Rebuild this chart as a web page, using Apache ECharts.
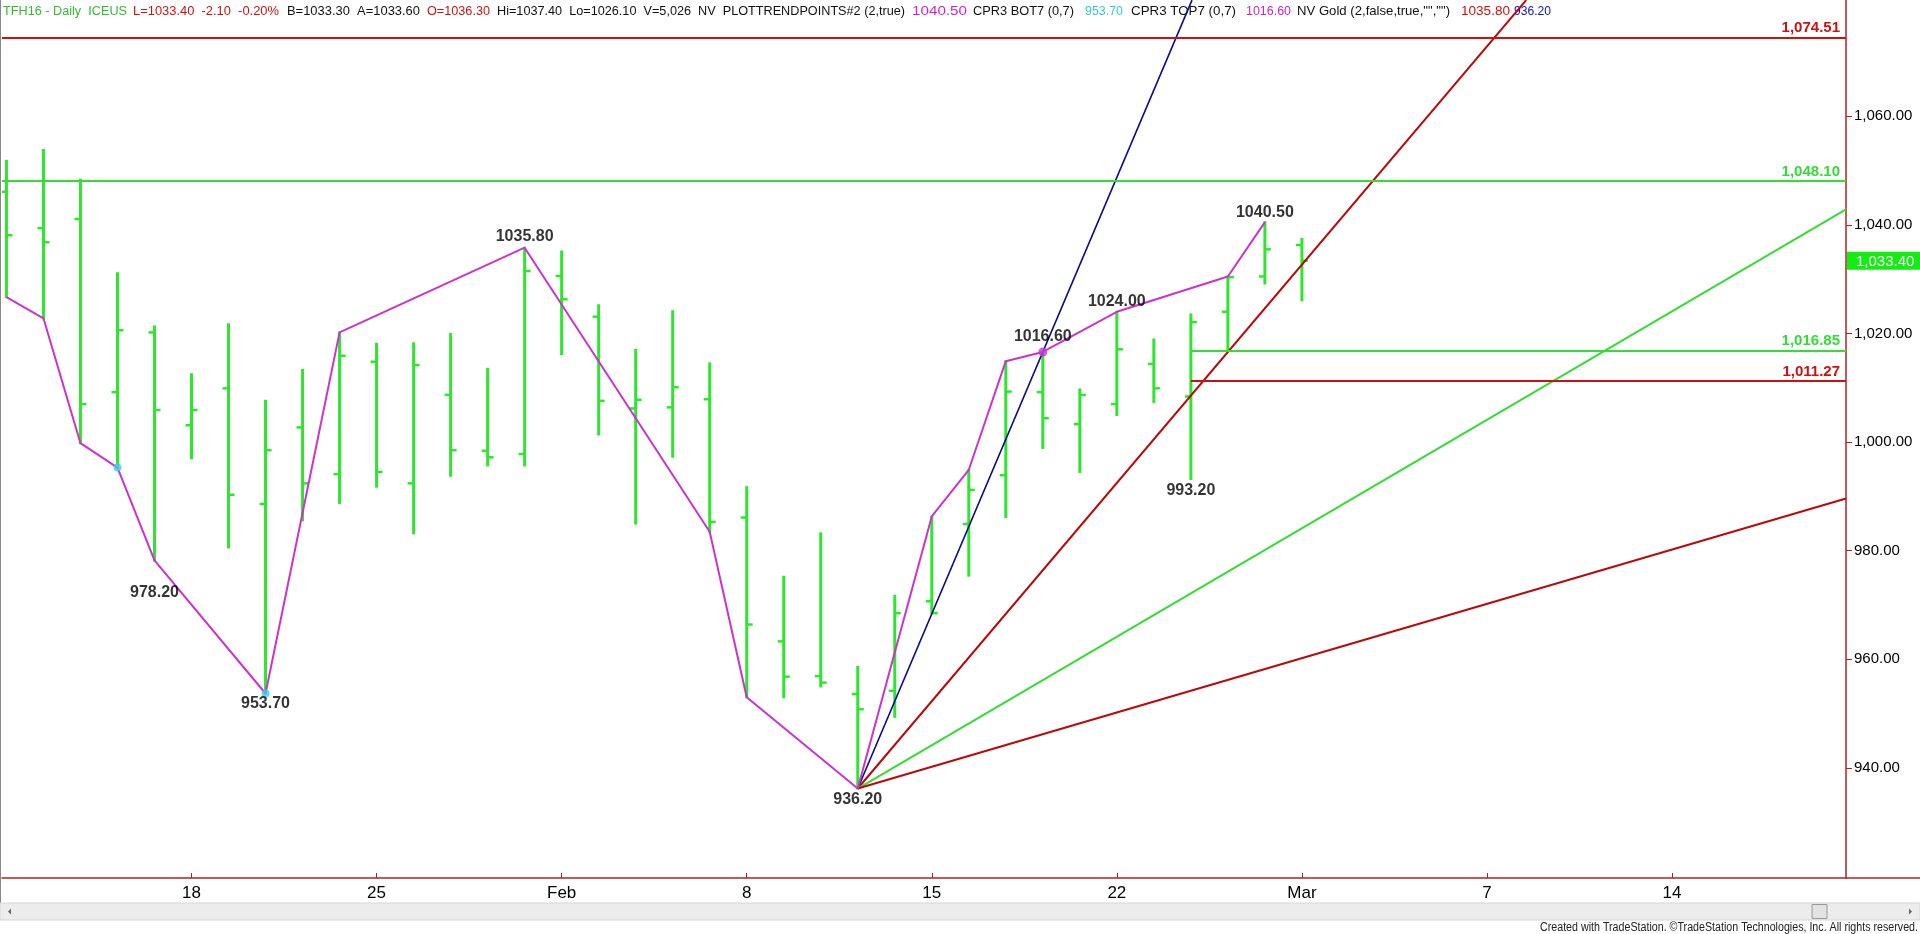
<!DOCTYPE html>
<html><head><meta charset="utf-8">
<script src="https://cdn.jsdelivr.net/npm/echarts@6/dist/echarts.min.js"></script>
<style>html,body{margin:0;padding:0;background:#fff;overflow:hidden}#c{width:1920px;height:934px}</style>
</head><body><div id="c"></div>
<script>
// ---- DATA (bar index 0 = 2016-01-11) ----
const dates = ['2016-01-11','2016-01-12','2016-01-13','2016-01-14','2016-01-15',
  '2016-01-18','2016-01-19','2016-01-20','2016-01-21','2016-01-22',
  '2016-01-25','2016-01-26','2016-01-27','2016-01-28','2016-01-29',
  '2016-02-01','2016-02-02','2016-02-03','2016-02-04','2016-02-05',
  '2016-02-08','2016-02-09','2016-02-10','2016-02-11','2016-02-12',
  '2016-02-15','2016-02-16','2016-02-17','2016-02-18','2016-02-19',
  '2016-02-22','2016-02-23','2016-02-24','2016-02-25','2016-02-26','2016-02-29'];
const opens  = [1046.1,1039.4,1041.1,1009.2,1020.2,1003.1,1009.9,988.6,1002.7,994.1,
  1014.8,992.4,1008.7,998.4,997.8,1030.6,1023.1,1006.2,1006.4,1007.9,
  986.1,963.3,956.9,953.6,954.2,970.7,984.9,993.9,1009.2,1003.3,
  1007.0,1014.4,1008.4,1024.0,1030.5,1036.3];
const highs  = [1051.8,1053.8,1048.3,1031.1,1021.3,1012.5,1021.7,1007.6,1013.3,1020.2,
  1018.1,1018.2,1019.9,1013.5,1035.8,1035.1,1025.2,1017.0,1024.1,1014.5,
  991.7,975.2,983.2,958.6,971.7,986.3,994.9,1014.9,1016.6,1009.7,
  1024.0,1018.9,1023.5,1030.5,1040.5,1037.4];
const lows   = [1026.7,1022.8,999.8,995.3,978.2,997.0,980.6,953.7,985.6,988.8,
  991.8,983.2,993.8,995.7,995.7,1016.2,1001.4,985.0,997.3,983.5,
  953.0,953.0,955.0,936.2,949.4,968.5,975.4,986.2,998.9,994.5,
  1005.0,1007.4,993.2,1016.8,1029.2,1026.1];
const closes = [1038.1,1036.8,1007.0,1020.6,1005.9,1005.9,990.3,998.5,992.4,1015.9,
  994.5,1014.2,998.5,997.2,1031.5,1026.3,1007.6,1007.8,1010.1,985.3,
  966.4,956.8,955.7,950.8,968.5,968.5,991.2,1009.3,1004.4,1008.7,
  1017.1,1009.9,1022.1,1030.4,1035.5,1033.4];

const xTickIdx    = [5,10,15,20,25,30,35,40,45];
const xTickLabels = ['18','25','Feb','8','15','22','Mar','7','14'];
const yTicks      = [940,960,980,1000,1020,1040,1060];

const swingIdx = [0,1,2,3,4,7,9,14,19,20,23,25,26,27,28,30,33,34];
const swingVal = [1026.7,1022.8,999.8,995.3,978.2,953.7,1020.2,1035.8,983.5,953.0,936.2,986.3,994.9,1014.9,1016.6,1024.0,1030.5,1040.5];

const pivotIdx  = [4,7,14,23,28,30,32,34];
const pivotVal  = [978.2,953.7,1035.8,936.2,1016.6,1024.0,993.2,1040.5];
const pivotSide = ['bottom','bottom','top','bottom','top','top','bottom','top'];

const fanStartIdx = 23, fanStartVal = 936.2;
const fanEndIdx = [32.03, 41.06, 49.7, 49.7];
const fanEndVal = [1081.4, 1081.4, 1042.85, 989.6];

const levelVal      = [1074.51, 1048.10, 1016.85, 1011.27];
const levelStartIdx = [null, null, 32, 32];

const cyanDotIdx = [3, 7];
const cyanDotVal = [995.3, 953.7];
const pinkDotIdx = [28];
const pinkDotVal = [1016.6];

const lastPrice = 1033.40;

const headerParts = ['TFH16 - Daily  ICEUS','L=1033.40  -2.10  -0.20%','B=1033.30  A=1033.60','O=1036.30',
  'Hi=1037.40  Lo=1026.10  V=5,026  NV  PLOTTRENDPOINTS#2 (2,true)','1040.50','CPR3 BOT7 (0,7)','953.70',
  'CPR3 TOP7 (0,7)','1016.60','NV Gold (2,false,true,"","")','1035.80','936.20'];
const footerText = 'Created with TradeStation. \u00A9TradeStation Technologies, Inc. All rights reserved.';

// ---- LAYOUT / STYLE ----
const X_MIN = -0.12, X_MAX = 49.7, Y_MIN = 919.72, Y_MAX = 1081.42;
const GREEN = '#2ee62e', AXIS_RED = '#b52020', MAGENTA = '#cc33cc';
const headerX = [3,133,287,427,497,912,973,1085,1131,1246,1297,1461,1514];
const headerW = [124,146,133,63,408,55,101,38,105,45,153,49,37];
const headerColor = ['#33bb33','#cc1111','#111','#cc1111','#111','#cc22cc','#111','#33cccc','#111','#cc22cc','#111','#cc1111','#1111bb'];
const pivotDist = [24,2,3,3,7,2,4,2];
const fanColor = ['#0a0a8c','#b80a0a','#33dd33','#b80a0a'];
const levelColor = ['#cc1111','#33dd33','#33dd33','#cc1111'];
const FONT = '"Liberation Sans", Arial, sans-serif';
const fmt2 = v => v.toLocaleString('en-US',{minimumFractionDigits:2, maximumFractionDigits:2});

const mctx = document.createElement('canvas').getContext('2d');
function textW(t, font){ mctx.font = font; return mctx.measureText(t).width; }

const chart = echarts.init(document.getElementById('c'), null, {renderer:'canvas'});

const series = [];
// OHLC bars
series.push({
  type:'custom', name:'bars', z:2, clip:true,
  data: dates.map((d,i)=>[i, opens[i], highs[i], lows[i], closes[i]]),
  encode:{x:0, y:[1,2,3,4]},
  renderItem(params, api){
    const i = api.value(0);
    const o = api.coord([i, api.value(1)]);
    const h = api.coord([i, api.value(2)]);
    const l = api.coord([i, api.value(3)]);
    const c = api.coord([i, api.value(4)]);
    return {type:'group', children:[
      {type:'line', shape:{x1:h[0],y1:h[1]-1,x2:l[0],y2:l[1]+1}, style:{stroke:GREEN,lineWidth:3}},
      {type:'line', shape:{x1:o[0]-6,y1:o[1],x2:o[0],y2:o[1]}, style:{stroke:GREEN,lineWidth:2.5}},
      {type:'line', shape:{x1:c[0],y1:c[1],x2:c[0]+6,y2:c[1]}, style:{stroke:GREEN,lineWidth:2.5}}
    ]};
  }
});
// horizontal levels
series.push({
  type:'line', name:'levels', data:[], z:3,
  markLine:{
    silent:true, symbol:['none','none'], animation:false,
    data: levelVal.map((v,k)=>{
      const ls = {color:levelColor[k], width:2, type:'solid'};
      const lab = {show:true, position:'insideEndTop', formatter: fmt2(v), color:levelColor[k],
        fontWeight:'bold', fontSize:15, fontFamily:FONT, distance:[6,2]};
      if (levelStartIdx[k] === null) return {yAxis:v, lineStyle:ls, label:lab};
      return [{coord:[levelStartIdx[k], v], lineStyle:ls, label:lab},{coord:[X_MAX, v]}];
    })
  }
});
// fan lines
fanEndIdx.forEach((ei,k)=>{
  series.push({type:'line', name:'fan'+k, z:4, clip:true, symbol:'none', silent:true,
    data:[[fanStartIdx, fanStartVal],[ei, fanEndVal[k]]],
    lineStyle:{color:fanColor[k], width: k===0?1.6:2}});
});
// swing line
series.push({type:'line', name:'swing', z:5, symbol:'none', silent:true,
  data: swingIdx.map((x,k)=>[x, swingVal[k]]),
  lineStyle:{color:MAGENTA, width:2}});
// dots
series.push({type:'scatter', z:6, symbol:'circle', symbolSize:8, silent:true,
  data: cyanDotIdx.map((x,k)=>[x, cyanDotVal[k]]), itemStyle:{color:'#44ccee'}});
series.push({type:'scatter', z:6, symbol:'circle', symbolSize:9, silent:true,
  data: pinkDotIdx.map((x,k)=>[x, pinkDotVal[k]]), itemStyle:{color:'#cc33dd'}});
// pivot labels
series.push({type:'scatter', z:7, symbolSize:0, silent:true,
  data: pivotIdx.map((x,k)=>({value:[x, pivotVal[k]], label:{position:pivotSide[k], distance:pivotDist[k]}})),
  label:{show:true, formatter:p=>p.value[1].toFixed(2), fontWeight:'bold', fontSize:16, fontFamily:FONT, color:'#000'}});
// last price tag
series.push({type:'custom', z:10, clip:false, silent:true,
  data:[[X_MAX, lastPrice]],
  renderItem(params, api){
    const p = api.coord([api.value(0), api.value(1)]);
    return {type:'group', children:[
      {type:'rect', shape:{x:p[0]+1, y:p[1]-9, width:73, height:18}, style:{fill:'#14ec14'}},
      {type:'text', x:p[0]+10, y:p[1]+1, style:{text:fmt2(api.value(1)), fill:'#fff', font:'15px '+FONT, verticalAlign:'middle'}}
    ]};
  }
});

const graphic = [];
const HFONT = '13px ' + FONT;
headerParts.forEach((t,k)=>{
  const s = headerW[k] / textW(t, HFONT);
  graphic.push({type:'text', x:headerX[k], y:5, scaleX:s, silent:true,
    style:{text:t, fill:headerColor[k], font:HFONT}});
});
graphic.push({type:'line', silent:true, shape:{x1:1846,y1:878,x2:1920,y2:878}, style:{stroke:AXIS_RED,lineWidth:1.5}});
graphic.push({type:'line', silent:true, shape:{x1:0.5,y1:0,x2:0.5,y2:920}, style:{stroke:'#888',lineWidth:1}});
graphic.push({type:'rect', silent:true, shape:{x:0,y:903,width:1920,height:17}, style:{fill:'#ececec',stroke:'#d6d6d6'}});
graphic.push({type:'rect', silent:true, shape:{x:1812,y:904.5,width:15,height:14}, style:{fill:'#e2e2e2',stroke:'#9a9a9a'}});
graphic.push({type:'polygon', silent:true, shape:{points:[[8,911.5],[11,908.5],[11,914.5]]}, style:{fill:'#666'}});
graphic.push({type:'polygon', silent:true, shape:{points:[[1912,911.5],[1909,908.5],[1909,914.5]]}, style:{fill:'#666'}});
const FFONT = '12px ' + FONT;
const fs = 378 / textW(footerText, FFONT);
graphic.push({type:'text', x:1540, y:922, scaleX:fs, silent:true, style:{text:footerText, fill:'#222', font:FFONT}});

chart.setOption({
  animation:false,
  backgroundColor:'#fff',
  grid:{left:2, right:74, top:0, bottom:56, containLabel:false, outerBoundsMode:'none'},
  xAxis:{type:'value', min:X_MIN, max:X_MAX, position:'bottom',
    axisLine:{show:true, onZero:false, lineStyle:{color:AXIS_RED, width:1.5}},
    axisTick:{show:true, inside:true, length:5, customValues:xTickIdx, lineStyle:{color:AXIS_RED}},
    axisLabel:{show:true, customValues:xTickIdx, margin:7, color:'#000', fontSize:17,
      fontFamily:'"Liberation Sans Narrow", '+FONT,
      formatter:v=>{const k=xTickIdx.indexOf(Math.round(v)); return k>=0?xTickLabels[k]:'';}},
    splitLine:{show:false}},
  yAxis:{type:'value', min:Y_MIN, max:Y_MAX, position:'right',
    axisLine:{show:true, onZero:false, lineStyle:{color:AXIS_RED, width:1.5}},
    axisTick:{show:true, length:6, customValues:yTicks, lineStyle:{color:AXIS_RED}},
    axisLabel:{show:true, customValues:yTicks, margin:8, color:'#000', fontSize:15, fontFamily:FONT,
      formatter:v=>fmt2(v)},
    splitLine:{show:false}},
  graphic: graphic,
  series: series
});
</script></body></html>
